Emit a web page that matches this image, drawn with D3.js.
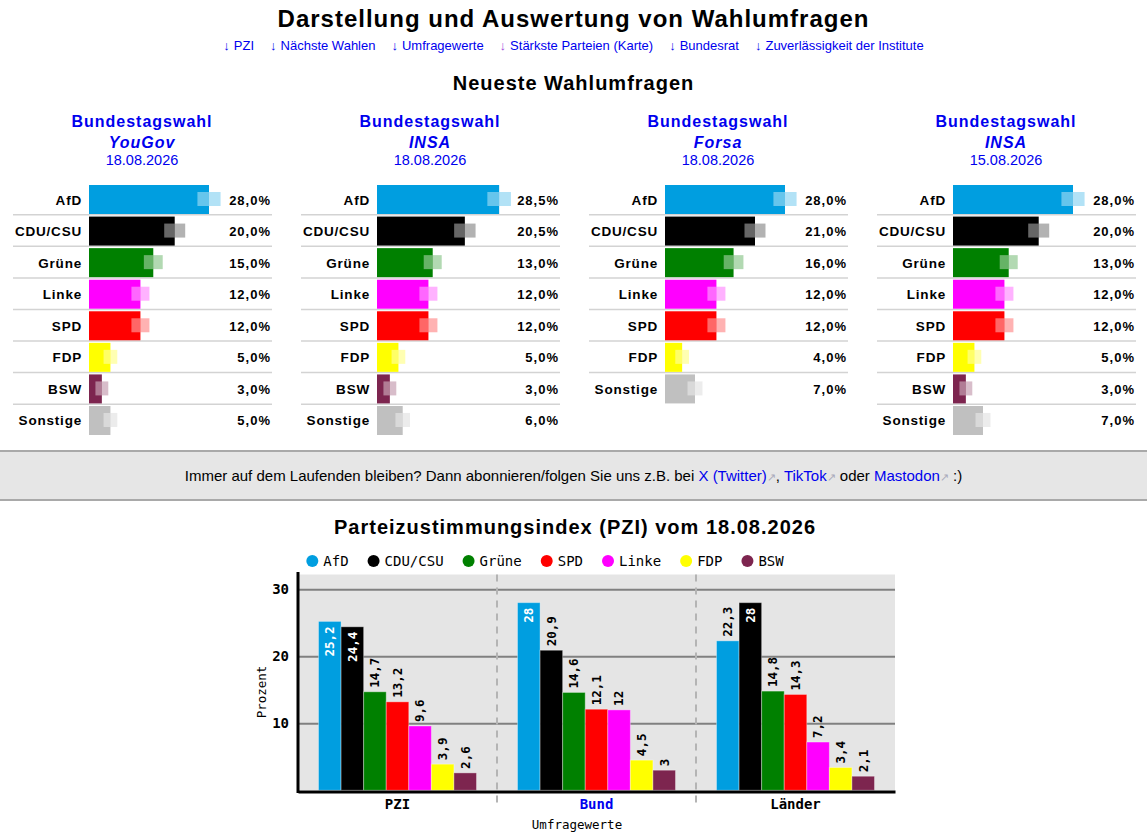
<!DOCTYPE html>
<html>
<head>
<meta charset="utf-8">
<script src="https://cdn.jsdelivr.net/npm/d3@7"></script>
<style>
  body { margin: 0; background: #fff; }
</style>
</head>
<body>
<div class="vis"></div>
<script>
  const W = 1147, H = 840;
  const sans = "'Liberation Sans', Arial, sans-serif";
  const mono = "'DejaVu Sans Mono', monospace";

  // header
  const pageTitle = "Darstellung und Auswertung von Wahlumfragen";
  const navLinks = ["PZI", "Nächste Wahlen", "Umfragewerte", "Stärkste Parteien (Karte)", "Bundesrat", "Zuverlässigkeit der Institute"];

  // latest polls
  const pollElections = ["Bundestagswahl", "Bundestagswahl", "Bundestagswahl", "Bundestagswahl"];
  const pollInstitutes = ["YouGov", "INSA", "Forsa", "INSA"];
  const pollDates = ["18.08.2026", "18.08.2026", "18.08.2026", "15.08.2026"];
  const pollParties = [
    ["AfD", "CDU/CSU", "Grüne", "Linke", "SPD", "FDP", "BSW", "Sonstige"],
    ["AfD", "CDU/CSU", "Grüne", "Linke", "SPD", "FDP", "BSW", "Sonstige"],
    ["AfD", "CDU/CSU", "Grüne", "Linke", "SPD", "FDP", "Sonstige"],
    ["AfD", "CDU/CSU", "Grüne", "Linke", "SPD", "FDP", "BSW", "Sonstige"]
  ];
  const pollValues = [
    [28, 20, 15, 12, 12, 5, 3, 5],
    [28.5, 20.5, 13, 12, 12, 5, 3, 6],
    [28, 21, 16, 12, 12, 4, 7],
    [28, 20, 13, 12, 12, 5, 3, 7]
  ];
  // error margins (+/- percentage points)
  const pollMargins = [
    [2.7, 2.45, 2.2, 2.1, 2.1, 1.6, 1.5, 1.6],
    [2.75, 2.5, 2.1, 2.1, 2.1, 1.6, 1.5, 1.7],
    [2.7, 2.45, 2.3, 2.1, 2.1, 1.6, 1.75],
    [2.7, 2.45, 2.1, 2.1, 2.1, 1.6, 1.5, 1.75]
  ];

  // PZI chart
  const pziTitle = "Parteizustimmungsindex (PZI) vom 18.08.2026";
  const pziGroups = ["PZI", "Bund", "Länder"];
  const pziParties = ["AfD", "CDU/CSU", "Grüne", "SPD", "Linke", "FDP", "BSW"];
  const pziIndex = [25.2, 24.4, 14.7, 13.2, 9.6, 3.9, 2.6];
  const pziBund = [28, 20.9, 14.6, 12.1, 12, 4.5, 3];
  const pziLaender = [22.3, 28, 14.8, 14.3, 7.2, 3.4, 2.1];
  const pziYTicks = [10, 20, 30];

  const partyColors = {
    "AfD": "#009ee0", "CDU/CSU": "#000000", "Grüne": "#008000", "Linke": "#ff00ff",
    "SPD": "#ff0000", "FDP": "#ffff00", "BSW": "#7d254f", "Sonstige": "#c0c0c0"
  };
  const linkBlue = "#0000ee";

  const svg = d3.select('.vis').append('svg')
    .attr("width", W).attr("height", H)
    .style("display", "block");

  // ---------- header ----------
  svg.append("text")
    .attr("x", W / 2).attr("y", 27)
    .attr("text-anchor", "middle")
    .attr("font-family", sans).attr("font-weight", "bold")
    .attr("font-size", 24).attr("letter-spacing", "1px")
    .text(pageTitle);

  const nav = svg.append("text")
    .attr("x", W / 2).attr("y", 50)
    .attr("text-anchor", "middle")
    .attr("font-family", sans).attr("font-size", 13)
    .attr("fill", linkBlue);
  navLinks.forEach((d, i) => {
    nav.append("tspan").attr("dx", i ? 16 : 0)
      .attr("fill", i == 3 ? "#a04be0" : linkBlue).text("↓");
    nav.append("tspan").attr("dx", 4).text(d);
  });

  svg.append("text")
    .attr("x", W / 2).attr("y", 90)
    .attr("text-anchor", "middle")
    .attr("font-family", sans).attr("font-weight", "bold")
    .attr("font-size", 20).attr("letter-spacing", "1px")
    .text("Neueste Wahlumfragen");

  // ---------- poll panels ----------
  const panelX = d3.scaleBand().domain(d3.range(4)).range([-2, 1150]);
  const rowY = d3.scaleBand().domain(d3.range(8)).range([185, 185 + 8 * 31.57]);
  const barW = d3.scaleLinear().domain([0, 35]).range([0, 150]);
  const barH = 29;

  pollInstitutes.forEach((inst, p) => {
    const cx = panelX(p) + panelX.bandwidth() / 2;
    const x0 = cx - 53;
    const g = svg.append("g");

    g.append("text").attr("x", cx).attr("y", 127)
      .attr("text-anchor", "middle").attr("font-family", sans)
      .attr("font-weight", "bold").attr("font-size", 16).attr("letter-spacing", "1px")
      .attr("fill", linkBlue).text(pollElections[p]);
    g.append("text").attr("x", cx).attr("y", 148)
      .attr("text-anchor", "middle").attr("font-family", sans)
      .attr("font-weight", "bold").attr("font-style", "italic")
      .attr("font-size", 16).attr("letter-spacing", "1px")
      .attr("fill", linkBlue).text(inst);
    g.append("text").attr("x", cx).attr("y", 165)
      .attr("text-anchor", "middle").attr("font-family", sans)
      .attr("font-size", 14.5).attr("fill", linkBlue).text(pollDates[p]);

    const rows = pollParties[p].map((party, i) => ({
      party, i, v: pollValues[p][i], m: pollMargins[p][i]
    }));

    // separators
    g.selectAll("line.sep")
      .data(rows.slice(0, -1))
      .join("line")
      .attr("x1", cx - 129).attr("x2", cx + 130)
      .attr("y1", d => rowY(d.i) + barH + 0.75)
      .attr("y2", d => rowY(d.i) + barH + 0.75)
      .attr("stroke", "#d3d3d3").attr("stroke-width", 1.5);

    g.selectAll("rect.bar")
      .data(rows)
      .join("rect")
      .attr("x", x0)
      .attr("y", d => rowY(d.i))
      .attr("width", d => barW(d.v))
      .attr("height", barH)
      .attr("fill", d => partyColors[d.party]);

    // margin boxes: lighter inside the bar, tinted outside
    g.selectAll("rect.errIn")
      .data(rows)
      .join("rect")
      .attr("x", d => x0 + barW(d.v - d.m))
      .attr("y", d => rowY(d.i) + 7)
      .attr("width", d => barW(d.m))
      .attr("height", 14)
      .attr("fill", "#fff").attr("fill-opacity", 0.4);
    g.selectAll("rect.errOut")
      .data(rows)
      .join("rect")
      .attr("x", d => x0 + barW(d.v))
      .attr("y", d => rowY(d.i) + 7)
      .attr("width", d => barW(d.m))
      .attr("height", 14)
      .attr("fill", d => partyColors[d.party]).attr("fill-opacity", 0.3);

    g.selectAll("text.lab")
      .data(rows)
      .join("text")
      .attr("x", cx - 60)
      .attr("y", d => rowY(d.i) + barH / 2 + 5)
      .attr("text-anchor", "end")
      .attr("font-family", sans).attr("font-weight", "bold")
      .attr("font-size", 13.5).attr("letter-spacing", "0.8px")
      .text(d => d.party);

    g.selectAll("text.val")
      .data(rows)
      .join("text")
      .attr("x", cx + 129)
      .attr("y", d => rowY(d.i) + barH / 2 + 5)
      .attr("text-anchor", "end")
      .attr("font-family", sans).attr("font-weight", "bold")
      .attr("font-size", 13).attr("letter-spacing", "1px")
      .text(d => d.v.toFixed(1).replace(".", ",") + "%");
  });

  // ---------- banner ----------
  svg.append("rect").attr("x", 0).attr("y", 451).attr("width", W).attr("height", 49)
    .attr("fill", "#e6e6e6");
  [451, 500].forEach(y => svg.append("line")
    .attr("x1", 0).attr("x2", W).attr("y1", y).attr("y2", y)
    .attr("stroke", "#a9a9a9").attr("stroke-width", 2));

  const banner = svg.append("text")
    .attr("x", W / 2).attr("y", 481)
    .attr("text-anchor", "middle")
    .attr("font-family", sans).attr("font-size", 15);
  [
    ["Immer auf dem Laufenden bleiben? Dann abonnieren/folgen Sie uns z.B. bei ", "#000"],
    ["X (Twitter)", linkBlue], ["↗", "#aab"], [", ", "#000"],
    ["TikTok", linkBlue], ["↗", "#aab"], [" oder ", "#000"],
    ["Mastodon", linkBlue], ["↗", "#aab"], [" :)", "#000"]
  ].forEach(([t, c]) => banner.append("tspan").attr("fill", c)
    .attr("font-size", t == "↗" ? 11 : 15).text(t));

  // ---------- PZI chart ----------
  svg.append("text")
    .attr("x", 575).attr("y", 534)
    .attr("text-anchor", "middle")
    .attr("font-family", sans).attr("font-weight", "bold")
    .attr("font-size", 20).attr("letter-spacing", "1px")
    .text(pziTitle);

  const x0 = d3.scaleBand().domain(pziGroups).range([298, 895]);
  const x1 = d3.scaleBand().domain(pziParties).range([20.5, x0.bandwidth() - 20.5]);
  const y = d3.scaleLinear().domain([0, 32.2]).range([790.3, 574.5]);

  svg.append("rect")
    .attr("x", x0.range()[0]).attr("y", y.range()[1])
    .attr("width", x0.range()[1] - x0.range()[0])
    .attr("height", y.range()[0] - y.range()[1])
    .attr("fill", "#e5e5e5");

  const yAxis = svg.append("g")
    .attr("transform", `translate(${x0.range()[0]},0)`)
    .call(d3.axisLeft(y).tickValues(pziYTicks)
      .tickSize(-(x0.range()[1] - x0.range()[0])).tickPadding(9));
  yAxis.select(".domain").remove();
  yAxis.selectAll(".tick line").attr("stroke", "#808080").attr("stroke-width", 2);
  yAxis.selectAll(".tick text")
    .attr("font-family", mono).attr("font-size", 14).attr("font-weight", "bold")
    .attr("fill", "#000");

  // group dividers
  svg.selectAll("line.div")
    .data(pziGroups.slice(1))
    .join("line")
    .attr("x1", d => x0(d)).attr("x2", d => x0(d))
    .attr("y1", y.range()[1]).attr("y2", 808)
    .attr("stroke", "#b4b4b4").attr("stroke-width", 2)
    .attr("stroke-dasharray", "7,6");

  const series = [pziIndex, pziBund, pziLaender];
  const barData = [];
  pziGroups.forEach((g, gi) => pziParties.forEach((p, pi) =>
    barData.push({ g, p, v: series[gi][pi] })));

  svg.append("g").selectAll("rect")
    .data(barData)
    .join("rect")
    .attr("x", d => x0(d.g) + x1(d.p))
    .attr("y", d => y(d.v))
    .attr("width", x1.bandwidth())
    .attr("height", d => y(0) - y(d.v))
    .attr("fill", d => partyColors[d.p])
    .attr("stroke", "#fff").attr("stroke-opacity", 0.35).attr("stroke-width", 1);

  svg.append("g").selectAll("text")
    .data(barData)
    .join("text")
    .attr("transform", d => {
      const cx = x0(d.g) + x1(d.p) + x1.bandwidth() / 2;
      return `translate(${cx},${d.v >= 24 ? y(d.v) + 5 : y(d.v) - 4}) rotate(-90)`;
    })
    .attr("dy", "0.35em")
    .attr("text-anchor", d => d.v >= 24 ? "end" : "start")
    .attr("font-family", mono).attr("font-weight", "bold").attr("font-size", 12.5)
    .attr("fill", d => d.v >= 24 ? "#fff" : "#000")
    .text(d => String(d.v).replace(".", ","));

  // axis lines
  svg.append("line")
    .attr("x1", 298).attr("x2", 298).attr("y1", 572).attr("y2", 793)
    .attr("stroke", "#000").attr("stroke-width", 3);
  const xAxis = svg.append("g")
    .attr("transform", "translate(0,791.5)")
    .call(d3.axisBottom(x0).tickSize(0).tickPadding(8));
  xAxis.select(".domain").attr("stroke", "#000").attr("stroke-width", 3);
  xAxis.selectAll(".tick text")
    .attr("font-family", mono).attr("font-size", 14).attr("font-weight", "bold")
    .attr("fill", d => d == "Bund" ? linkBlue : "#000");

  svg.append("text")
    .attr("transform", "translate(266,692) rotate(-90)")
    .attr("text-anchor", "middle")
    .attr("font-family", mono).attr("font-size", 12.5)
    .text("Prozent");
  svg.append("text")
    .attr("x", 577).attr("y", 829)
    .attr("text-anchor", "middle")
    .attr("font-family", mono).attr("font-size", 12.5)
    .text("Umfragewerte");

  // legend
  const charW = 14 * 0.602;
  let lx = 312.3;
  const legend = svg.append("g");
  pziParties.forEach(p => {
    legend.append("circle").attr("cx", lx).attr("cy", 561).attr("r", 6)
      .attr("fill", partyColors[p]);
    legend.append("text").attr("x", lx + 11).attr("y", 561).attr("dy", "0.35em")
      .attr("font-family", mono).attr("font-size", 14).text(p);
    lx += 11 + p.length * charW + 25;
  });
</script>
</body>
</html>
